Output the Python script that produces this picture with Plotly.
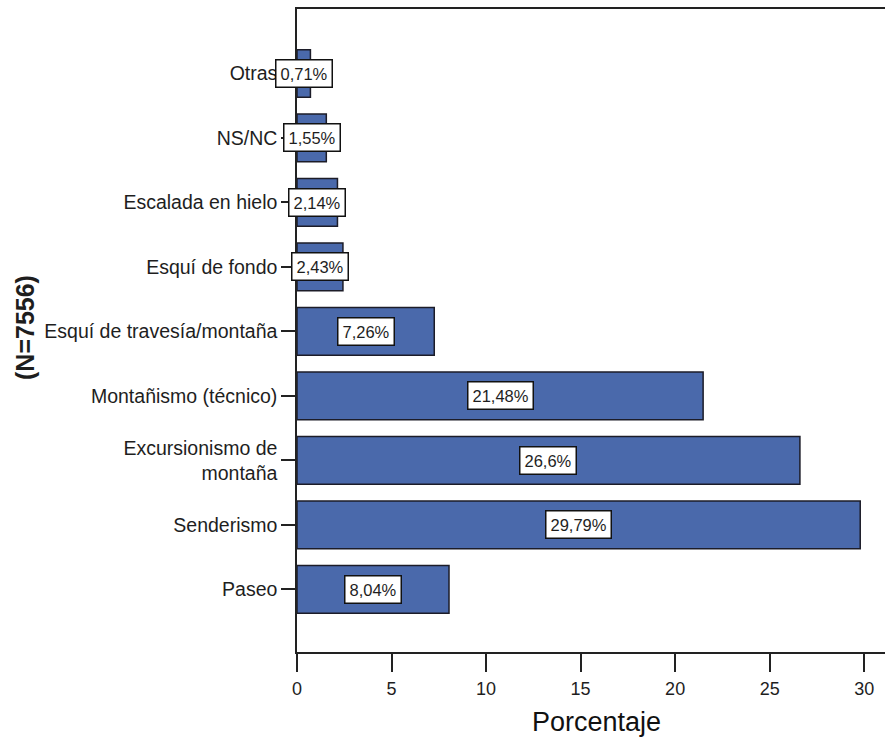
import plotly.graph_objects as go

# Activity categories, listed bottom-to-top as drawn on the y axis
categories = [
    "Paseo",
    "Senderismo",
    "Excursionismo de<br>montaña",
    "Montañismo (técnico)",
    "Esquí de travesía/montaña",
    "Esquí de fondo",
    "Escalada en hielo",
    "NS/NC",
    "Otras",
]
percentages = [8.04, 29.79, 26.6, 21.48, 7.26, 2.43, 2.14, 1.55, 0.71]
x_ticks = [0, 5, 10, 15, 20, 25, 30]

labels = [f"{v:g}".replace(".", ",") + "%" for v in percentages]

FONT = "Liberation Sans, Arial, sans-serif"
INK = "#1e1e1e"

fig = go.Figure(
    go.Bar(
        x=percentages,
        y=categories,
        orientation="h",
        width=0.74,
        marker=dict(color="#4a69ab", line=dict(color="#1c1c28", width=1.5)),
        hoverinfo="skip",
    )
)

# Boxed value labels centred on each bar
for cat, val, lab in zip(categories, percentages, labels):
    fig.add_annotation(
        x=val / 2,
        y=cat,
        text=lab,
        showarrow=False,
        font=dict(family=FONT, size=16.5, color=INK),
        bgcolor="white",
        bordercolor="#111111",
        borderwidth=1.5,
        borderpad=4,
    )

# Axis titles
fig.add_annotation(
    xref="paper", yref="paper",
    x=(596 - 297) / 588, y=-70 / 643,
    text="Porcentaje", showarrow=False,
    font=dict(family=FONT, size=27, color="#111111"),
    xanchor="center", yanchor="middle",
)
fig.add_annotation(
    xref="paper", yref="paper",
    x=(25 - 297) / 588, y=(652 - 328) / 643,
    text="<b>(N=7556)</b>", showarrow=False, textangle=-90,
    font=dict(family=FONT, size=25, color=INK),
    xanchor="center", yanchor="middle",
)

fig.update_layout(
    width=885,
    height=738,
    margin=dict(l=297, r=0, t=9, b=86),
    paper_bgcolor="white",
    plot_bgcolor="white",
    showlegend=False,
    font=dict(family=FONT, color=INK),
    xaxis=dict(
        range=[0, 31.1],
        tickvals=x_ticks,
        ticktext=[str(t) for t in x_ticks],
        ticks="outside",
        ticklen=18,
        tickwidth=1.5,
        tickcolor="#222222",
        showline=True,
        linecolor="#222222",
        linewidth=1.5,
        mirror=True,
        showgrid=False,
        zeroline=False,
        tickfont=dict(size=18, color=INK),
        ticklabelstandoff=2,
    ),
    yaxis=dict(
        type="category",
        categoryorder="array",
        categoryarray=categories,
        range=[-0.97, 9.0],
        ticks="outside",
        ticklen=14,
        tickwidth=1.5,
        tickcolor="#222222",
        showline=True,
        linecolor="#222222",
        linewidth=1.5,
        showgrid=False,
        zeroline=False,
        tickfont=dict(size=19.5, color=INK),
        ticklabelstandoff=0,
    ),
)

fig.write_html("out.html")
